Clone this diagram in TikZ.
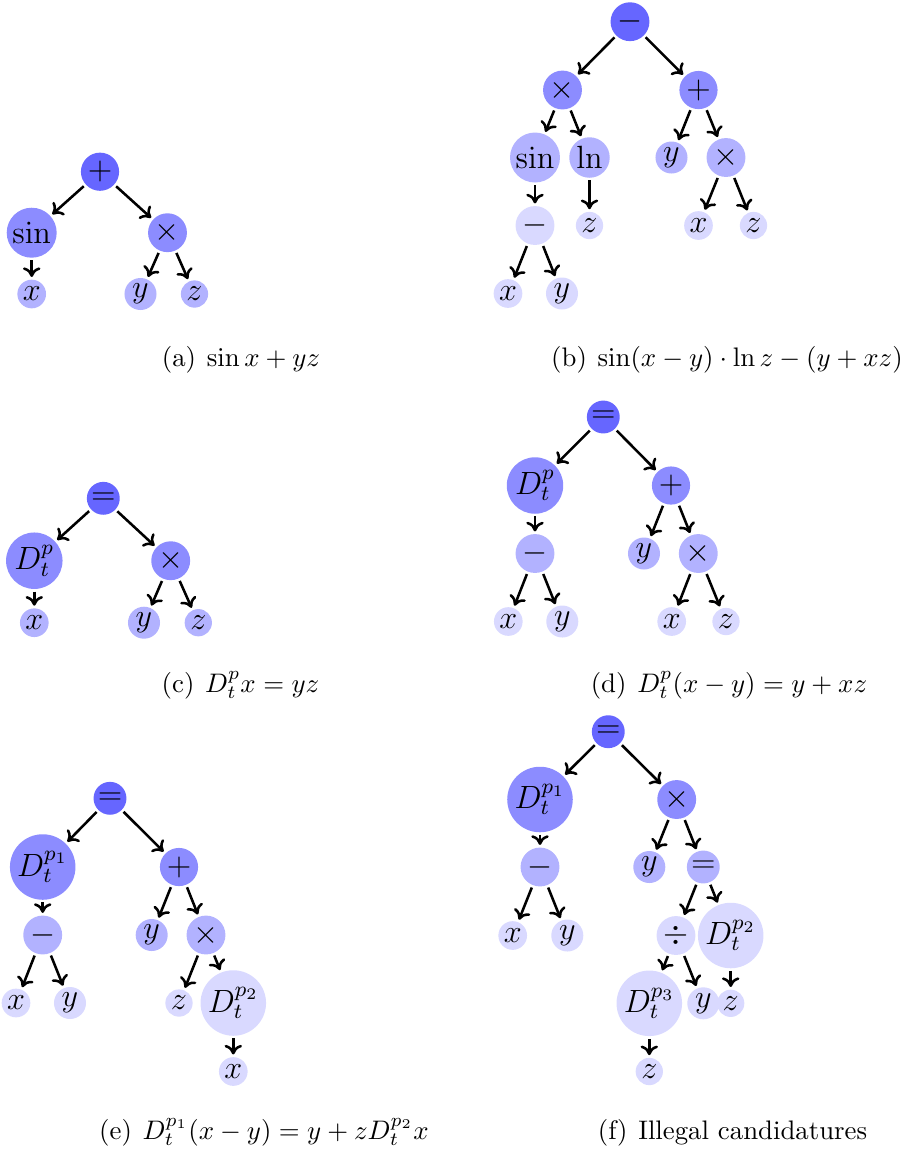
\documentclass[tikz,border=0pt]{standalone}
\usetikzlibrary{arrows.meta}
\begin{document}
\begin{tikzpicture}[x=0.3731pt,y=-0.3731pt,
  tn/.style={circle, inner sep=0.8pt, outer sep=1pt, font=\large},
  l0/.style={tn, fill=blue!60},
  l1/.style={tn, fill=blue!45},
  l2/.style={tn, fill=blue!30},
  l3/.style={tn, fill=blue!15},
  ed/.style={-{To[length=3.6pt,width=6.5pt]}, line width=0.95pt},
  captext/.style={anchor=base, inner sep=0pt, font=\normalsize}]
\useasboundingbox (0,0) rectangle (904,1151);
% (a)
\node[l0] (a0) at (100,171.7) {$+$};
\node[l1] (a1) at (31.7,232.7) {$\sin$};
\node[l1] (a2) at (167.5,232.7) {$\times$};
\node[l2] (a11) at (31.7,294) {$x$};
\node[l2] (a21) at (140.5,294) {$y$};
\node[l2] (a22) at (194.5,294) {$z$};
\draw[ed] (a0) -- (a1);
\draw[ed] (a0) -- (a2);
\draw[ed] (a1) -- (a11);
\draw[ed] (a2) -- (a21);
\draw[ed] (a2) -- (a22);
\node[captext] (ca) at (241,366.5) {(a)\hspace{0.4em}$\sin x + yz$};
% (b)
\node[l0] (b0) at (630,21.7) {$-$};
\node[l1] (b1) at (562.5,90) {$\times$};
\node[l1] (b2) at (698.5,90) {$+$};
\node[l2] (b11) at (535,157.5) {$\sin$};
\node[l2] (b12) at (589.5,157.5) {$\ln$};
\node[l2] (b21) at (671.5,157.5) {$y$};
\node[l2] (b22) at (726,157.5) {$\times$};
\node[l3] (b111) at (535,225.5) {$-$};
\node[l3] (b121) at (589.5,225.5) {$z$};
\node[l3] (b221) at (698.5,225.5) {$x$};
\node[l3] (b222) at (753.5,225.5) {$z$};
\node[l3] (b1111) at (508,293.5) {$x$};
\node[l3] (b1112) at (562,293.5) {$y$};
\draw[ed] (b0) -- (b1);
\draw[ed] (b0) -- (b2);
\draw[ed] (b1) -- (b11);
\draw[ed] (b1) -- (b12);
\draw[ed] (b2) -- (b21);
\draw[ed] (b2) -- (b22);
\draw[ed] (b11) -- (b111);
\draw[ed] (b12) -- (b121);
\draw[ed] (b22) -- (b221);
\draw[ed] (b22) -- (b222);
\draw[ed] (b111) -- (b1111);
\draw[ed] (b111) -- (b1112);
\node[captext] (cb) at (727,366.5) {(b)\hspace{0.4em}$\sin(x-y)\cdot\ln z-(y+xz)$};
% (c)
\node[l0] (c0) at (103.3,498.3) {$=$};
\node[l1] (c1) at (34.3,560.7) {$D_t^p$};
\node[l1] (c2) at (170.7,560.7) {$\times$};
\node[l2] (c11) at (34.3,622.7) {$x$};
\node[l2] (c21) at (144,622.7) {$y$};
\node[l2] (c22) at (198.3,622.7) {$z$};
\draw[ed] (c0) -- (c1);
\draw[ed] (c0) -- (c2);
\draw[ed] (c1) -- (c11);
\draw[ed] (c2) -- (c21);
\draw[ed] (c2) -- (c22);
\node[captext] (cc) at (240.5,692.3) {(c)\hspace{0.4em}$D_t^p x = yz$};
% (d)
\node[l0] (d0) at (603.3,417) {$=$};
\node[l1] (d1) at (535,485.5) {$D_t^p$};
\node[l1] (d2) at (671,485.5) {$+$};
\node[l2] (d11) at (535,553.5) {$-$};
\node[l2] (d21) at (644,553.5) {$y$};
\node[l2] (d22) at (698.3,553.5) {$\times$};
\node[l3] (d111) at (508.3,621.5) {$x$};
\node[l3] (d112) at (562.3,621.5) {$y$};
\node[l3] (d221) at (671.7,621.5) {$x$};
\node[l3] (d222) at (726,621.5) {$z$};
\draw[ed] (d0) -- (d1);
\draw[ed] (d0) -- (d2);
\draw[ed] (d1) -- (d11);
\draw[ed] (d2) -- (d21);
\draw[ed] (d2) -- (d22);
\draw[ed] (d11) -- (d111);
\draw[ed] (d11) -- (d112);
\draw[ed] (d22) -- (d221);
\draw[ed] (d22) -- (d222);
\node[captext] (cd) at (729,692.3) {(d)\hspace{0.4em}$D_t^p(x-y) = y+xz$};
% (e)
\node[l0] (e0) at (110,798.3) {$=$};
\node[l1] (e1) at (42.7,867) {$D_t^{p_1}$};
\node[l1] (e2) at (179,867) {$+$};
\node[l2] (e11) at (42.7,935) {$-$};
\node[l2] (e21) at (151.7,935) {$y$};
\node[l2] (e22) at (206,935) {$\times$};
\node[l3] (e111) at (16,1003) {$x$};
\node[l3] (e112) at (70,1003) {$y$};
\node[l3] (e221) at (179,1003) {$z$};
\node[l3] (e222) at (233.3,1003) {$D_t^{p_2}$};
\node[l3] (e2221) at (233.3,1071.5) {$x$};
\draw[ed] (e0) -- (e1);
\draw[ed] (e0) -- (e2);
\draw[ed] (e1) -- (e11);
\draw[ed] (e2) -- (e21);
\draw[ed] (e2) -- (e22);
\draw[ed] (e11) -- (e111);
\draw[ed] (e11) -- (e112);
\draw[ed] (e22) -- (e221);
\draw[ed] (e22) -- (e222);
\draw[ed] (e222) -- (e2221);
\node[captext] (ce) at (264,1139) {(e)\hspace{0.4em}$D_t^{p_1}(x-y) = y+zD_t^{p_2}x$};
% (f)
\node[l0] (f0) at (608.3,731.7) {$=$};
\node[l1] (f1) at (540,799.5) {$D_t^{p_1}$};
\node[l1] (f2) at (676.7,799.5) {$\times$};
\node[l2] (f11) at (540,867) {$-$};
\node[l2] (f21) at (649.3,867) {$y$};
\node[l2] (f22) at (703.3,867) {$=$};
\node[l3] (f111) at (512.7,935.5) {$x$};
\node[l3] (f112) at (567.3,935.5) {$y$};
\node[l3] (f221) at (676,935.5) {$\div$};
\node[l3] (f222) at (730.7,935.5) {$D_t^{p_2}$};
\node[l3] (f2211) at (649.3,1003.3) {$D_t^{p_3}$};
\node[l3] (f2212) at (703.3,1003.3) {$y$};
\node[l3] (f2221) at (730.7,1003.3) {$z$};
\node[l3] (f22111) at (649.3,1071.5) {$z$};
\draw[ed] (f0) -- (f1);
\draw[ed] (f0) -- (f2);
\draw[ed] (f1) -- (f11);
\draw[ed] (f2) -- (f21);
\draw[ed] (f2) -- (f22);
\draw[ed] (f11) -- (f111);
\draw[ed] (f11) -- (f112);
\draw[ed] (f22) -- (f221);
\draw[ed] (f22) -- (f222);
\draw[ed] (f221) -- (f2211);
\draw[ed] (f221) -- (f2212);
\draw[ed] (f222) -- (f2221);
\draw[ed] (f2211) -- (f22111);
\node[captext] (cf) at (732.5,1139) {(f)\hspace{0.4em}Illegal candidatures};
\end{tikzpicture}
\end{document}
